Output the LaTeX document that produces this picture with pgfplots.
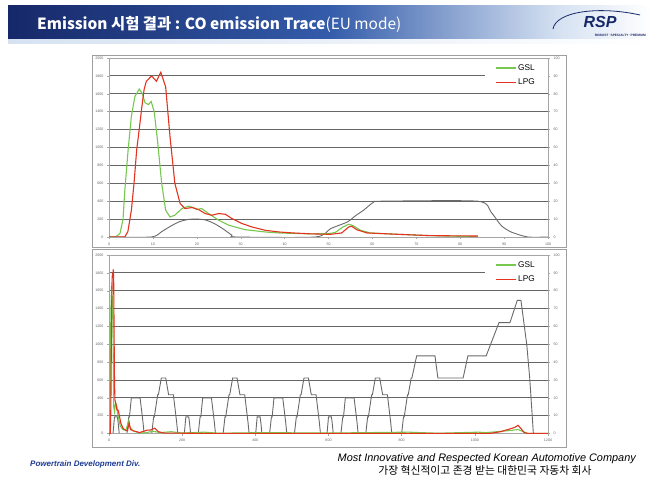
\documentclass[border=0pt]{standalone}
\usepackage{fontspec}
\setmainfont{Liberation Sans}
\newfontfamily\kr{Noto Sans CJK KR}
\usepackage{pgfplots}
\pgfplotsset{compat=1.18}
\definecolor{gslc}{RGB}{118,200,80}
\definecolor{lpgc}{RGB}{226,52,30}
\definecolor{spdc}{RGB}{105,105,105}
\definecolor{navy}{RGB}{22,40,105}
\definecolor{midblue}{RGB}{52,92,170}
\definecolor{paleblue}{RGB}{214,226,242}
\definecolor{divblue}{RGB}{30,60,150}

\pgfplotsset{
  coaxis/.style={
    scale only axis, width=439pt,
    xmin=0, ymin=0, ymax=2000, ytick={0,200,...,2000},
    ymajorgrids, grid style={draw=gray!80!black, line width=0.8pt},
    axis line style={draw=gray!70, line width=0.6pt},
    tick style={draw=gray!70, line width=0.4pt},
    major tick length=2pt, tick align=outside,
    ticklabel style={font=\fontsize{3.6}{4}\selectfont, text=gray!80!black},
    /pgf/number format/assume math mode=true,
    /pgf/number format/set thousands separator={},
    xtick pos=bottom, ytick pos=left,
  },
  spdaxis/.style={
    scale only axis, width=439pt,
    xmin=0, ymin=0, ymax=100, ytick={0,10,...,100},
    axis x line=none, axis y line*=right,
    axis line style={draw=gray!70, line width=0.6pt},
    tick style={draw=gray!70, line width=0.4pt},
    major tick length=2pt, tick align=outside,
    ticklabel style={font=\fontsize{3.6}{4}\selectfont, text=gray!80!black},
    /pgf/number format/assume math mode=true,
  },
  legaxis/.style={
    scale only axis, width=439pt, hide axis,
    xmin=0, xmax=1, ymin=0, ymax=1,
    legend style={at={(rel axis cs:1,0.985)}, anchor=north east, draw=none,
      fill=white, font=\fontsize{8.3}{9}\selectfont, inner xsep=11pt, inner ysep=2pt,
      row sep=3pt, text=black},
    legend cell align=left,
  },
  gslstyle/.style={draw=gslc, line width=1.1pt},
  lpgstyle/.style={draw=lpgc, line width=1.1pt},
  % legend samples set as coloured rules (text colour), not stroked paths
  gslleg/.style={legend image code/.code={\node[inner sep=0, anchor=west] at (0pt,0pt)
      {\textcolor{gslc}{\rule[-0.65pt]{20pt}{1.3pt}}};}},
  lpgleg/.style={legend image code/.code={\node[inner sep=0, anchor=west] at (0pt,0pt)
      {\textcolor{lpgc}{\rule[-0.65pt]{20pt}{1.3pt}}};}},
}

\begin{document}
\begin{tikzpicture}[x=1pt,y=1pt]
\useasboundingbox (0,0) rectangle (651,477);
\fill[white] (0,0) rectangle (651,477);

% title bar
\shade[left color=navy, right color=midblue] (8,437) rectangle (330,471);
\shade[left color=midblue, right color=paleblue] (330,437) rectangle (560,471);
\shade[left color=paleblue, right color=white] (560,437) rectangle (651,471);
\shade[left color=paleblue, right color=white] (8,433) rectangle (651,437);
\node[anchor=base west, text=white, inner sep=0] at (37,447)
  {\kr\fontsize{15.4}{16}\selectfont\bfseries Emission 시험 결과 : CO emission Trace\mdseries(EU mode)};
% logo
\draw[navy, line width=0.8pt] (553,448) .. controls (556,466) and (600,471) .. (640,462);
\node[anchor=base, text=navy, inner sep=0] at (600,449)
  {\fontsize{16}{16}\selectfont\bfseries\itshape RSP};
\node[anchor=base east, text=navy, inner sep=0] at (646,440)
  {\fontsize{3.2}{3.5}\selectfont\bfseries ROBUST$\cdot$SPECIALTY$\cdot$PREMIUM};

% chart frames
\draw[gray!75, line width=0.7pt] (92,230) rectangle (566,422);
\draw[gray!75, line width=0.7pt] (92,30) rectangle (566,228);

% ---------- top chart (0-100 s) ----------
\begin{axis}[spdaxis, height=179pt, at={(109pt,240pt)}, anchor=south west, xmax=100]
\addplot[draw=spdc, line width=0.9pt, smooth, tension=0.4] coordinates {
 (0,0)(9.7,0)(12,3)(14,6)(16,8.5)(18,9.8)(20,10)(22,9.5)(24,7.5)(26,4.5)(28,1)
 (29,0)(47,0)(50.5,4.7)(54.3,8.4)(56.2,12)(58,15)(60.3,19.5)(62,20)(84,20)
 (87,14)(89.3,6.5)(91.6,2.8)(95.4,0)(100,0)
};
\end{axis}
\begin{axis}[coaxis, height=179pt, at={(109pt,240pt)}, anchor=south west,
  xmax=100, xtick={0,10,...,100}]
\addplot[gslstyle] coordinates {
 (0,0)(1.5,0)(2.5,40)(3.2,200)(3.6,520)(4.35,970)(5.1,1350)(5.9,1570)(6.9,1653)
 (7.6,1600)(8.2,1500)(9,1480)(9.6,1515)(10.3,1400)(11,1100)(12,600)(12.9,300)
 (13.9,224)(15,243)(16.6,318)(18.1,344)(19.2,330)(20,307)(21.1,318)(22.7,262)
 (25,187)(27.3,131)(31,82)(35.6,56)(38.7,45)(42,40)(46,35)(50,37)(51.5,50)
 (53.3,112)(54.6,142)(55.5,130)(57.3,75)(59.6,45)(65.8,30)(73.3,15)(80.8,7)(84,5)
};
\addplot[lpgstyle] coordinates {
 (0,0)(3.6,0)(4.3,60)(5.1,300)(5.7,600)(6.3,970)(7,1250)(7.4,1420)(8,1650)
 (8.5,1740)(9.7,1800)(10.8,1740)(11.8,1840)(12.9,1680)(13.9,1120)(15,600)
 (16.2,374)(17.3,318)(18.9,329)(20.4,307)(21.9,262)(23.4,243)(25,262)(26.5,254)
 (28,206)(30.3,150)(32.6,112)(35.6,75)(38.7,56)(42,45)(46,35)(50.5,30)(53,45)
 (54.6,112)(55.3,120)(56.4,82)(58.8,45)(65.8,30)(73.3,15)(84,11)
};
\end{axis}

% ---------- bottom chart (0-1200 s) ----------
\begin{axis}[spdaxis, height=178.5pt, at={(109pt,43.5pt)}, anchor=south west, xmax=1200]
\addplot[draw=spdc, line width=0.9pt] coordinates {
 (0,0)(11,0)(15,9.3)(23,9.3)(25,6.2)(28,0)(49,0)(54,9.3)(56,9.3)(61,19.9)(85,19.9)
 (93,6.2)(96,0)(117,0)(122,9.3)(124,9.3)(133,21.7)(135,21.7)(143,31.1)(155,31.1)
 (163,21.7)(176,21.7)(185,6.2)(188,0)
 (206,0)(210,9.3)(218,9.3)(220,6.2)(223,0)(244,0)(249,9.3)(251,9.3)(256,19.9)
 (280,19.9)(288,6.2)(291,0)(312,0)(317,9.3)(319,9.3)(328,21.7)(330,21.7)
 (338,31.1)(350,31.1)(358,21.7)(371,21.7)(380,6.2)(383,0)
 (401,0)(405,9.3)(413,9.3)(415,6.2)(418,0)(439,0)(444,9.3)(446,9.3)(451,19.9)
 (475,19.9)(483,6.2)(486,0)(507,0)(512,9.3)(514,9.3)(523,21.7)(525,21.7)
 (533,31.1)(545,31.1)(553,21.7)(566,21.7)(575,6.2)(578,0)
 (596,0)(600,9.3)(608,9.3)(610,6.2)(613,0)(634,0)(639,9.3)(641,9.3)(646,19.9)
 (670,19.9)(678,6.2)(681,0)(702,0)(707,9.3)(709,9.3)(718,21.7)(720,21.7)
 (728,31.1)(740,31.1)(748,21.7)(761,21.7)(770,6.2)(773,0)
 (800,0)(805,9.3)(807,9.3)(816,21.7)(818,21.7)(826,31.1)(828,31.1)(841,43.5)
 (891,43.5)(899,31.1)(968,31.1)(981,43.5)(1031,43.5)(1066,62.1)(1096,62.1)
 (1116,74.6)(1126,74.6)(1142,49.7)(1150,31.1)(1160,0)
};
\end{axis}
\begin{axis}[coaxis, height=178.5pt, at={(109pt,43.5pt)}, anchor=south west,
  xmax=1200, xtick={0,200,...,1200}]
\addplot[gslstyle] coordinates {
 (0,0)(2,40)(3.6,520)(5.1,1350)(6.9,1653)(8.2,1500)(9.6,1515)(11,1100)(12.9,300)
 (15,243)(18,344)(21,318)(25,187)(31,82)(38,45)(46,35)(54,142)(57,75)(66,30)
 (84,5)(100,8)(120,25)(140,10)(170,20)(200,5)(260,15)(300,3)(420,10)(600,5)
 (820,15)(850,10)(900,3)(1010,15)(1030,10)(1060,20)(1100,35)(1118,45)(1130,25)
 (1145,0)(1200,0)
};
\addplot[lpgstyle] coordinates {
 (0,0)(3.6,0)(5.1,300)(6.3,970)(7.4,1420)(8.5,1740)(9.7,1800)(10.8,1740)
 (11.8,1840)(12.9,1680)(13.9,1120)(15,600)(16.2,374)(18.9,329)(21.9,262)(25,262)
 (28,206)(32.6,112)(38.7,56)(46,35)(50.5,30)(55,120)(58.8,45)(66,30)(84,11)
 (104,37)(115,40)(125,60)(135,20)(150,5)(300,0)(1040,0)(1070,20)(1095,50)
 (1110,70)(1118,92)(1125,60)(1135,10)(1145,0)(1200,0)
};
\end{axis}

% footer
\node[anchor=base west, text=divblue, inner sep=0] at (30,11)
  {\fontsize{8}{8}\selectfont\bfseries\itshape Powertrain Development  Div.};
\node[anchor=base east, inner sep=0] at (636,16)
  {\fontsize{10.9}{11}\selectfont\itshape Most Innovative and Respected Korean Automotive Company};
\node[anchor=base, inner sep=0] at (485,3)
  {\kr\fontsize{10.8}{11}\selectfont 가장 혁신적이고 존경 받는 대한민국 자동차 회사};

% legends (drawn last, on top)
\begin{axis}[legaxis, height=178.5pt, at={(109pt,43.5pt)}, anchor=south west]
\addlegendimage{gslleg}\addlegendentry{GSL}
\addlegendimage{lpgleg}\addlegendentry{LPG}
\end{axis}
\begin{axis}[legaxis, height=179pt, at={(109pt,240pt)}, anchor=south west]
\addlegendimage{gslleg}\addlegendentry{GSL}
\addlegendimage{lpgleg}\addlegendentry{LPG}
\end{axis}
\end{tikzpicture}
\end{document}
